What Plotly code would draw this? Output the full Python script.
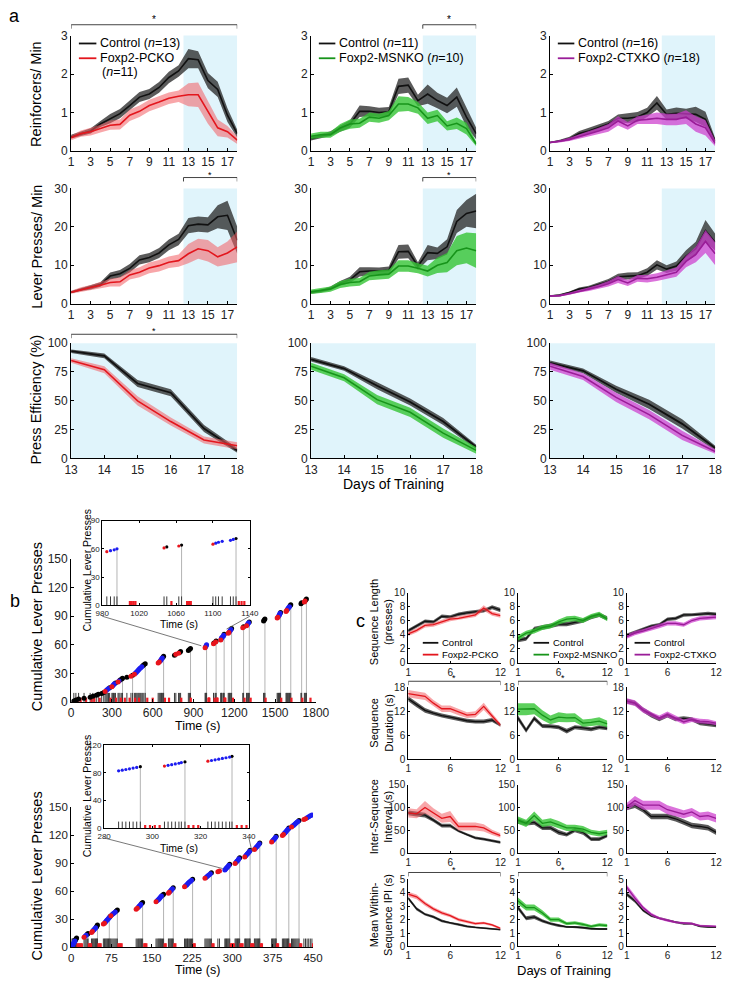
import plotly.graph_objects as go

W, H = 736, 983
FONT = "Liberation Sans, Arial, sans-serif"

# ---------------- DATA ----------------
DAYS = list(range(1, 19))
TEST_DAYS = list(range(13, 19))
SEQ_DAYS = list(range(1, 13))

# Panel a: Reinforcers / Min
RM_CTRL_PC = [0.37, 0.45, 0.52, 0.70, 0.84, 0.97, 1.18, 1.40, 1.48, 1.65, 1.91, 2.08, 2.40, 2.37, 1.83, 1.60, 0.93, 0.45]
RM_CTRL_PC_SEM = [0.05, 0.06, 0.07, 0.08, 0.12, 0.12, 0.12, 0.13, 0.13, 0.14, 0.15, 0.15, 0.25, 0.22, 0.20, 0.20, 0.18, 0.10]
RM_PCKO = [0.34, 0.45, 0.50, 0.58, 0.67, 0.69, 0.93, 1.03, 1.18, 1.27, 1.37, 1.42, 1.46, 1.46, 1.01, 0.60, 0.50, 0.28]
RM_PCKO_SEM = [0.06, 0.08, 0.10, 0.10, 0.12, 0.13, 0.15, 0.15, 0.15, 0.15, 0.15, 0.15, 0.30, 0.32, 0.30, 0.22, 0.15, 0.10]
RM_CTRL_MS = [0.32, 0.38, 0.45, 0.58, 0.70, 1.03, 1.03, 1.00, 1.02, 1.68, 1.71, 1.31, 1.48, 1.31, 1.18, 1.40, 0.88, 0.45]
RM_CTRL_MS_SEM = [0.05, 0.05, 0.06, 0.08, 0.10, 0.15, 0.13, 0.12, 0.12, 0.20, 0.20, 0.15, 0.25, 0.20, 0.20, 0.25, 0.25, 0.15]
RM_MSNKO = [0.38, 0.42, 0.42, 0.60, 0.70, 0.72, 0.88, 0.85, 0.92, 1.22, 1.22, 1.12, 0.85, 0.92, 0.65, 0.72, 0.58, 0.18]
RM_MSNKO_SEM = [0.07, 0.08, 0.08, 0.10, 0.12, 0.12, 0.12, 0.12, 0.12, 0.20, 0.18, 0.15, 0.15, 0.15, 0.12, 0.15, 0.15, 0.06]
RM_CTRL_CTX = [0.22, 0.26, 0.32, 0.45, 0.52, 0.60, 0.70, 0.85, 0.85, 0.88, 1.00, 1.25, 0.95, 0.98, 0.97, 0.95, 0.82, 0.25]
RM_CTRL_CTX_SEM = [0.02, 0.03, 0.05, 0.07, 0.08, 0.08, 0.08, 0.10, 0.13, 0.13, 0.12, 0.18, 0.13, 0.15, 0.13, 0.20, 0.20, 0.08]
RM_CTXKO = [0.22, 0.25, 0.30, 0.38, 0.45, 0.52, 0.60, 0.78, 0.65, 0.80, 0.82, 0.85, 0.82, 0.82, 0.88, 0.70, 0.60, 0.20]
RM_CTXKO_SEM = [0.02, 0.03, 0.04, 0.06, 0.07, 0.08, 0.10, 0.12, 0.10, 0.10, 0.12, 0.15, 0.15, 0.15, 0.18, 0.20, 0.20, 0.08]

# Panel a: Lever Presses / Min
LP_CTRL_PC = [3.0, 3.7, 4.2, 5.0, 7.2, 7.8, 9.2, 11.4, 12.0, 13.2, 15.3, 16.7, 20.3, 20.7, 20.5, 22.6, 23.0, 16.5]
LP_CTRL_PC_SEM = [0.3, 0.4, 0.5, 0.6, 0.9, 1.0, 1.1, 1.2, 1.2, 1.3, 1.4, 1.5, 2.0, 2.0, 2.0, 3.0, 3.8, 3.5]
LP_PCKO = [3.0, 3.7, 4.2, 4.8, 5.5, 5.7, 7.5, 8.2, 9.3, 9.9, 10.8, 11.2, 13.0, 14.3, 13.8, 12.2, 13.2, 14.8]
LP_PCKO_SEM = [0.4, 0.6, 0.7, 0.8, 1.0, 1.2, 1.2, 1.3, 1.4, 1.5, 1.5, 1.6, 2.5, 2.6, 2.8, 2.5, 3.0, 4.0]
LP_CTRL_MS = [3.0, 3.3, 4.0, 5.3, 6.2, 8.3, 8.5, 8.5, 8.7, 13.5, 13.6, 9.8, 13.3, 13.1, 14.8, 21.4, 23.5, 24.1]
LP_CTRL_MS_SEM = [0.4, 0.4, 0.5, 0.6, 0.8, 1.2, 1.0, 0.9, 1.0, 1.8, 1.8, 1.0, 2.0, 1.5, 2.0, 3.0, 3.5, 4.5]
LP_MSNKO = [3.1, 3.5, 3.8, 5.0, 5.5, 5.7, 7.2, 7.5, 7.7, 9.8, 9.8, 9.2, 8.5, 10.0, 10.7, 13.8, 14.5, 13.8]
LP_MSNKO_SEM = [0.6, 0.7, 0.7, 0.9, 1.0, 1.0, 1.1, 1.2, 1.2, 1.5, 1.5, 1.3, 1.4, 2.0, 2.5, 3.8, 4.0, 4.5]
LP_CTRL_CTX = [2.0, 2.2, 2.9, 3.8, 4.2, 5.0, 5.8, 7.0, 7.2, 7.3, 8.2, 10.1, 9.0, 9.8, 12.4, 14.3, 19.0, 16.0]
LP_CTRL_CTX_SEM = [0.2, 0.3, 0.3, 0.4, 0.5, 0.5, 0.6, 0.8, 0.9, 0.9, 1.0, 1.2, 1.0, 1.2, 1.5, 1.8, 2.8, 2.2]
LP_CTXKO = [2.0, 2.1, 2.6, 3.3, 3.8, 4.4, 5.2, 6.3, 5.4, 6.6, 6.5, 6.9, 7.5, 8.2, 11.0, 12.8, 16.2, 13.0]
LP_CTXKO_SEM = [0.2, 0.2, 0.3, 0.4, 0.5, 0.6, 0.7, 0.9, 0.8, 0.9, 1.0, 1.0, 1.1, 1.2, 1.5, 2.0, 3.0, 3.0]

# Panel a: Press Efficiency (%) days 13-18
PE_CTRL_PC = [93, 89, 65, 57, 26, 7]
PE_CTRL_PC_SEM = [1.5, 2, 3, 3, 3, 2]
PE_PCKO = [85, 77, 50, 32, 16, 11]
PE_PCKO_SEM = [2, 3, 4, 3.5, 3, 3]
PE_CTRL_MS = [86, 78, 63, 49, 32, 10]
PE_CTRL_MS_SEM = [2, 2, 3, 3, 3, 2]
PE_MSNKO = [80, 70, 51, 40, 22, 7]
PE_MSNKO_SEM = [3, 3, 4, 4, 4, 3]
PE_CTRL_CTX = [83, 76, 60, 47, 30, 9]
PE_CTRL_CTX_SEM = [2, 2, 3, 4, 4, 2]
PE_CTXKO = [80, 71, 53, 38, 20, 6]
PE_CTXKO_SEM = [3, 3, 4, 4, 4, 2]

# Panel c
SL_CTRL_PC = [4.55, 5.2, 5.9, 5.8, 6.6, 6.5, 6.9, 7.1, 7.3, 7.4, 7.9, 7.5]
SL_CTRL_PC_SEM = [0.25, 0.25, 0.25, 0.25, 0.25, 0.25, 0.25, 0.25, 0.25, 0.25, 0.3, 0.3]
SL_PCKO = [4.1, 4.6, 5.3, 5.4, 5.8, 6.2, 6.3, 6.6, 6.8, 7.8, 7.0, 6.7]
SL_PCKO_SEM = [0.3, 0.3, 0.3, 0.3, 0.3, 0.3, 0.3, 0.3, 0.3, 0.4, 0.3, 0.3]
SL_CTRL_MS = [3.2, 3.4, 4.8, 5.0, 5.2, 5.5, 5.5, 5.8, 6.0, 6.5, 6.8, 6.3]
SL_CTRL_MS_SEM = [0.3, 0.3, 0.3, 0.3, 0.3, 0.3, 0.3, 0.3, 0.3, 0.3, 0.3, 0.3]
SL_MSNKO = [3.5, 4.2, 4.5, 5.0, 5.2, 5.8, 6.2, 6.3, 6.0, 6.6, 6.9, 6.2]
SL_MSNKO_SEM = [0.4, 0.35, 0.35, 0.35, 0.35, 0.35, 0.4, 0.4, 0.35, 0.35, 0.35, 0.3]
SL_CTRL_CTX = [3.9, 4.3, 4.8, 5.2, 5.4, 6.2, 6.3, 6.8, 6.8, 6.9, 7.0, 6.9]
SL_CTRL_CTX_SEM = [0.25, 0.25, 0.25, 0.25, 0.25, 0.25, 0.25, 0.25, 0.25, 0.25, 0.25, 0.25]
SL_CTXKO = [3.7, 4.2, 4.5, 4.9, 5.2, 5.6, 5.6, 5.4, 6.0, 6.3, 6.4, 6.5]
SL_CTXKO_SEM = [0.3, 0.3, 0.3, 0.3, 0.3, 0.3, 0.3, 0.3, 0.3, 0.3, 0.3, 0.3]

SD_CTRL_PC = [15.1, 13.6, 12.2, 11.5, 10.9, 10.5, 10.0, 9.6, 9.4, 9.4, 9.8, 8.5]
SD_CTRL_PC_SEM = [0.6, 0.6, 0.6, 0.5, 0.5, 0.5, 0.5, 0.5, 0.5, 0.5, 0.5, 0.4]
SD_PCKO = [16.4, 16.0, 15.7, 14.0, 12.6, 12.6, 11.8, 11.0, 11.2, 13.2, 10.8, 8.5]
SD_PCKO_SEM = [0.9, 0.9, 0.9, 0.8, 0.8, 0.8, 0.8, 0.7, 0.8, 0.9, 0.7, 0.5]
SD_CTRL_MS = [10.3, 7.2, 10.2, 8.3, 8.2, 8.0, 7.0, 8.0, 7.8, 7.5, 8.0, 7.7]
SD_CTRL_MS_SEM = [0.7, 0.6, 0.6, 0.5, 0.5, 0.5, 0.6, 0.5, 0.5, 0.5, 0.5, 0.5]
SD_MSNKO = [12.5, 12.5, 12.6, 11.0, 9.8, 10.5, 10.3, 10.4, 9.0, 9.2, 9.5, 8.8]
SD_MSNKO_SEM = [1.5, 1.5, 1.4, 1.2, 1.1, 1.2, 1.1, 1.1, 0.9, 0.9, 1.0, 0.8]
SD_CTRL_CTX = [14.5, 14.0, 12.3, 11.0, 10.0, 11.0, 10.0, 10.2, 10.0, 9.0, 8.8, 8.5]
SD_CTRL_CTX_SEM = [0.6, 0.6, 0.6, 0.6, 0.5, 0.6, 0.5, 0.5, 0.5, 0.5, 0.5, 0.5]
SD_CTXKO = [14.5, 14.0, 12.3, 11.2, 10.3, 11.2, 10.3, 9.3, 9.9, 9.5, 9.4, 9.0]
SD_CTXKO_SEM = [0.7, 0.7, 0.7, 0.6, 0.6, 0.7, 0.6, 0.6, 0.6, 0.6, 0.6, 0.5]

ISI_CTRL_PC = [88, 85, 83, 72, 60, 60, 48, 40, 33, 30, 27, 23]
ISI_CTRL_PC_SEM = [5, 5, 5, 4, 4, 4, 3, 3, 3, 3, 3, 3]
ISI_PCKO = [88, 86, 100, 88, 76, 80, 58, 58, 58, 55, 45, 38]
ISI_PCKO_SEM = [10, 10, 14, 10, 10, 12, 9, 9, 9, 8, 6, 5]
ISI_CTRL_MS = [70, 65, 67, 55, 55, 45, 40, 50, 45, 30, 30, 38]
ISI_CTRL_MS_SEM = [6, 5, 5, 5, 5, 5, 4, 5, 5, 4, 4, 4]
ISI_MSNKO = [72, 65, 82, 65, 68, 62, 55, 55, 52, 45, 42, 45]
ISI_MSNKO_SEM = [8, 8, 9, 8, 8, 8, 7, 7, 7, 6, 6, 6]
ISI_CTRL_CTX = [100, 105, 95, 80, 80, 80, 75, 68, 60, 58, 55, 45]
ISI_CTRL_CTX_SEM = [6, 6, 6, 6, 6, 6, 6, 6, 6, 6, 6, 6]
ISI_CTXKO = [102, 115, 105, 105, 105, 95, 90, 85, 90, 80, 82, 76]
ISI_CTXKO_SEM = [8, 10, 10, 10, 10, 10, 9, 9, 9, 9, 9, 9]

IPI_CTRL_PC = [3.6, 2.8, 2.4, 2.2, 1.9, 1.75, 1.65, 1.5, 1.42, 1.35, 1.3, 1.25]
IPI_CTRL_PC_SEM = [0.12, 0.12, 0.1, 0.1, 0.1, 0.08, 0.08, 0.08, 0.07, 0.07, 0.07, 0.06]
IPI_PCKO = [3.9, 3.7, 3.2, 2.8, 2.5, 2.3, 2.0, 1.85, 1.7, 1.75, 1.6, 1.35]
IPI_PCKO_SEM = [0.18, 0.18, 0.16, 0.15, 0.14, 0.12, 0.12, 0.1, 0.1, 0.1, 0.1, 0.08]
IPI_CTRL_MS = [2.9, 2.1, 2.2, 1.9, 1.7, 1.55, 1.45, 1.45, 1.4, 1.3, 1.3, 1.3]
IPI_CTRL_MS_SEM = [0.18, 0.15, 0.15, 0.12, 0.1, 0.1, 0.08, 0.08, 0.08, 0.07, 0.07, 0.07]
IPI_MSNKO = [3.4, 2.9, 2.9, 2.5, 2.0, 2.0, 1.7, 1.75, 1.65, 1.5, 1.6, 1.55]
IPI_MSNKO_SEM = [0.25, 0.22, 0.22, 0.2, 0.16, 0.16, 0.12, 0.12, 0.12, 0.1, 0.12, 0.12]
IPI_CTRL_CTX = [3.9, 3.4, 2.7, 2.3, 2.1, 1.95, 1.8, 1.7, 1.7, 1.5, 1.45, 1.45]
IPI_CTRL_CTX_SEM = [0.15, 0.14, 0.12, 0.1, 0.1, 0.08, 0.08, 0.08, 0.08, 0.07, 0.07, 0.07]
IPI_CTXKO = [4.4, 3.6, 2.9, 2.4, 2.1, 1.95, 1.8, 1.75, 1.7, 1.55, 1.5, 1.5]
IPI_CTXKO_SEM = [0.2, 0.18, 0.14, 0.12, 0.1, 0.1, 0.08, 0.08, 0.08, 0.07, 0.07, 0.07]

# Panel b: example sessions (press times in s, press class k/r/b)
TOP_PRESS_T = [20, 35, 55, 95, 140, 160, 185, 200, 225, 240,
               250, 258, 266, 275, 283, 300, 306, 312, 318, 326, 345, 352, 360, 372, 378,
               410, 440, 452,
               465, 472, 478, 485, 492, 498, 505, 512, 520, 527, 535, 545,
               640, 648, 655, 660, 665, 670, 675, 680,
               760, 770, 790, 798, 805,
               862, 870, 878,
               985, 989, 993, 996,
               1047, 1050, 1063, 1066,
               1100, 1103, 1106, 1110, 1119, 1122, 1125,
               1155, 1160, 1165, 1170, 1175, 1180,
               1262, 1268, 1290, 1295, 1300, 1305, 1310,
               1415, 1420, 1425,
               1515, 1520, 1525, 1530, 1533, 1536, 1540,
               1580, 1585, 1590, 1595, 1600, 1605, 1610, 1615,
               1690, 1695, 1715, 1720, 1725, 1730]
TOP_PRESS_CLASS = ("kkkkkkkkkk" "rbbbkrbbbkrbkkk" "krk" "rbbbbbbbbkkk" "rrbbbbkk" "krrkk" "kkk"
                   "rbbb" "rkrk" "rbbbbbk" "rrbbbk" "rkrbbbk" "kkk" "rrbbbbk" "rrbbbbkk" "kkrrkk")
TOP_REWARD_T = [378, 452, 545, 680, 878, 996, 1066, 1125, 1180, 1268, 1310, 1425, 1540, 1615, 1695, 1730]
TOP_ENTRY_T = [45, 70, 110, 150, 170, 210, 290, 330, 365, 395, 430, 470, 500, 560, 600, 690, 720,
               810, 880, 1010, 1012, 1014, 1016, 1055, 1072, 1074, 1076, 1128, 1131, 1134, 1190,
               1275, 1320, 1430, 1545, 1620, 1700, 1760]
TOP_INSET_XT = [980, 1020, 1060, 1100, 1140]

BOT_PRESS_T = [1.5, 2.5, 3.2, 4.0, 5.1, 6.0, 7.2, 8.1, 9.0, 10.2,
               24, 26, 28, 30, 31.5,
               38, 39.5, 41, 42.5, 44, 45.5, 47, 48, 49,
               60, 62, 63.5, 65, 66.5, 68, 69.5, 71, 72.5, 74, 76, 78, 80, 82, 84, 86,
               121, 123, 125, 126.5, 128, 129.5, 131, 133,
               158, 160, 162, 163.5, 165, 166.5, 168, 170, 172,
               181, 182.5, 184, 185.5, 187, 188.5, 190,
               211, 213, 215, 216.5, 218, 220, 222, 224, 226,
               249, 251, 253, 255, 257, 259, 261,
               273, 276,
               286, 287.5, 289, 290.5, 292, 293.5, 295,
               305, 306.5, 308, 309.5, 311, 312, 313.5,
               323, 324.5, 326, 327.5, 329, 330.5, 332, 333,
               341, 342.5, 344, 345.5, 347, 348.5, 350, 351,
               373, 374.5, 376, 377.5, 379, 380.5, 381.5,
               393, 395, 396.5, 398, 399.5, 401, 402.5, 404, 405,
               410, 412, 414, 416, 418, 420, 422, 424,
               433, 436, 439, 442, 445, 448]
BOT_PRESS_CLASS = ("bbbbbbbkkk" "rbbkk" "rrbbbbkkk" "rrbbbbbbkrbbbbkk" "rrbbbbkk" "rbbbbbbkk" "rrbbbbk"
                   "rbbbbbbbk" "rbbbbbk" "rr" "bbbbbbk" "rbbbbbk" "rbbbbbbk" "rbbbbbbk" "rbbbbbk"
                   "rrbbbbbbk" "rbbbbbbk" "rrbbbb")
BOT_REWARD_T = [10.2, 31.5, 49, 71, 86, 133, 172, 190, 226, 261, 295, 313.5, 333, 351, 381.5, 405, 424]
BOT_ENTRY_T = [12, 14, 16, 18, 20, 33, 35, 37, 51, 53, 55, 88, 90, 92, 94, 136, 138, 140, 174, 176,
               192, 194, 228, 230, 263, 265, 297, 299, 301, 303, 315, 317, 319, 335, 337, 339,
               353, 355, 383, 385, 407, 426, 428, 450]
BOT_INSET_XT = [280, 300, 320, 340]

# ---------------- STYLE ----------------
BLACK, BLACK_BAND = "#111111", "rgba(45,45,45,0.78)"
RED, RED_BAND = "#e3161d", "rgba(242,92,98,0.55)"
GREEN, GREEN_BAND = "#17941a", "rgba(52,196,52,0.8)"
PURPLE, PURPLE_BAND = "#9a1d98", "rgba(205,60,205,0.72)"
SHADE = "#e0f4fb"
DOT = {"k": "#000000", "r": "#e8141c", "b": "#1c1cf0"}

fig = go.Figure()
layout = {}
shapes = []
annos = []


def fx(px):
    return px / W


def fy(py):
    return 1 - py / H


def ax_names(n):
    return ("x" if n == 1 else f"x{n}"), ("y" if n == 1 else f"y{n}")


def add_axis(n, box, xr, yr, xt, yt, fs, mirror=False, ticklen=3):
    l, r, t, b = box
    xn, yn = ax_names(n)
    common = dict(showgrid=False, zeroline=False, showline=True, linecolor="black", linewidth=1,
                  ticks="inside", ticklen=ticklen, tickcolor="black", tickwidth=1,
                  tickfont=dict(size=fs, color="#222", family=FONT),
                  mirror="ticks" if mirror else False, fixedrange=True)
    layout["xaxis" if n == 1 else f"xaxis{n}"] = dict(domain=[fx(l), fx(r)], range=xr, anchor=yn,
                                                     tickvals=xt, **common)
    layout["yaxis" if n == 1 else f"yaxis{n}"] = dict(domain=[fy(b), fy(t)], range=yr, anchor=xn,
                                                     tickvals=yt, **common)


def band_line(n, x, m, s, lc, bc, lw=1.6):
    xn, yn = ax_names(n)
    up = [a + e for a, e in zip(m, s)]
    lo = [a - e for a, e in zip(m, s)]
    fig.add_trace(go.Scatter(x=list(x) + list(x)[::-1], y=up + lo[::-1], fill="toself", fillcolor=bc,
                             line=dict(width=0), mode="lines", hoverinfo="skip", xaxis=xn, yaxis=yn))
    fig.add_trace(go.Scatter(x=list(x), y=list(m), mode="lines", line=dict(color=lc, width=lw),
                             xaxis=xn, yaxis=yn))


def shade(n, x0, x1):
    xn, yn = ax_names(n)
    shapes.append(dict(type="rect", xref=xn, yref=f"{yn} domain", x0=x0, x1=x1, y0=0, y1=1,
                       fillcolor=SHADE, line=dict(width=0), layer="below"))


def bracket(n, x0, x1, ytop, drop=4, star_fs=10, star_dy=5):
    xn, _ = ax_names(n)
    shapes.append(dict(type="path", xref=xn, yref="paper",
                       path=f"M {x0},{fy(ytop + drop)} L {x0},{fy(ytop)} L {x1},{fy(ytop)} L {x1},{fy(ytop + drop)}",
                       line=dict(color="#444", width=1)))
    annos.append(dict(xref=xn, yref="paper", x=(x0 + x1) / 2, y=fy(ytop - star_dy), text="*", showarrow=False,
                      yanchor="middle", borderpad=0,
                      font=dict(size=star_fs, color="black", family=FONT)))


def text(px, py, s, fs, angle=0, xanchor="center", yanchor="middle", color="black"):
    annos.append(dict(xref="paper", yref="paper", x=fx(px), y=fy(py), text=s, showarrow=False,
                      textangle=angle, xanchor=xanchor, yanchor=yanchor,
                      font=dict(size=fs, color=color, family=FONT)))


def legend_item(x0, x1, py, color, label, fs):
    shapes.append(dict(type="line", xref="paper", yref="paper", x0=fx(x0), x1=fx(x1), y0=fy(py), y1=fy(py),
                       line=dict(color=color, width=1.8)))
    text(x1 + 2, py, label, fs, xanchor="left")


# ---------------- PANEL A ----------------
A_COLS = [(66, 237), (313, 483), (559, 729)]
A_ROWS = [(29, 146), (184, 301), (341, 458)]
groups = [
    (RED, RED_BAND, "Foxp2-PCKO"),
    (GREEN, GREEN_BAND, "Foxp2-MSNKO"),
    (PURPLE, PURPLE_BAND, "Foxp2-CTXKO"),
]
rm = [(RM_CTRL_PC, RM_CTRL_PC_SEM, RM_PCKO, RM_PCKO_SEM),
      (RM_CTRL_MS, RM_CTRL_MS_SEM, RM_MSNKO, RM_MSNKO_SEM),
      (RM_CTRL_CTX, RM_CTRL_CTX_SEM, RM_CTXKO, RM_CTXKO_SEM)]
lp = [(LP_CTRL_PC, LP_CTRL_PC_SEM, LP_PCKO, LP_PCKO_SEM),
      (LP_CTRL_MS, LP_CTRL_MS_SEM, LP_MSNKO, LP_MSNKO_SEM),
      (LP_CTRL_CTX, LP_CTRL_CTX_SEM, LP_CTXKO, LP_CTXKO_SEM)]
pe = [(PE_CTRL_PC, PE_CTRL_PC_SEM, PE_PCKO, PE_PCKO_SEM),
      (PE_CTRL_MS, PE_CTRL_MS_SEM, PE_MSNKO, PE_MSNKO_SEM),
      (PE_CTRL_CTX, PE_CTRL_CTX_SEM, PE_CTXKO, PE_CTXKO_SEM)]
TEST_START = TEST_DAYS[0] - 0.5
odd_days = DAYS[::2]

for c in range(3):
    lc, bc, _ = groups[c]
    l, r = A_COLS[c]
    n = 1 + c
    add_axis(n, (l, r) + A_ROWS[0], [DAYS[0], DAYS[-1]], [0, 3], odd_days, [0, 1, 2, 3], 12)
    shade(n, TEST_START, DAYS[-1])
    cm, cs, km, ks = rm[c]
    band_line(n, DAYS, cm, cs, BLACK, BLACK_BAND)
    band_line(n, DAYS, km, ks, lc, bc)
    n = 4 + c
    add_axis(n, (l, r) + A_ROWS[1], [DAYS[0], DAYS[-1]], [0, 30], odd_days, [0, 10, 20, 30], 12)
    shade(n, TEST_START, DAYS[-1])
    cm, cs, km, ks = lp[c]
    band_line(n, DAYS, cm, cs, BLACK, BLACK_BAND)
    band_line(n, DAYS, km, ks, lc, bc)
    n = 7 + c
    add_axis(n, (l, r) + A_ROWS[2], [TEST_DAYS[0], TEST_DAYS[-1]], [0, 100], TEST_DAYS,
             [0, 25, 50, 75, 100], 12)
    shade(n, TEST_DAYS[0], TEST_DAYS[-1])
    cm, cs, km, ks = pe[c]
    band_line(n, TEST_DAYS, cm, cs, BLACK, BLACK_BAND, lw=1.8)
    band_line(n, TEST_DAYS, km, ks, lc, bc)

bracket(1, DAYS[0], DAYS[-1], 18)
bracket(2, TEST_START, DAYS[-1], 18)
bracket(4, TEST_START, DAYS[-1], 173, star_fs=9, star_dy=3)
bracket(5, TEST_START, DAYS[-1], 173, star_fs=9, star_dy=3)
bracket(7, TEST_DAYS[0], TEST_DAYS[-1], 332, star_fs=9, star_dy=3)

legend_item(74, 92, 37, BLACK, "Control (<i>n</i>=13)", 12.5)
legend_item(74, 92, 52, RED, "Foxp2-PCKO", 12.5)
text(96, 66, "(<i>n</i>=11)", 12.5, xanchor="left")
legend_item(321, 338, 37, BLACK, "Control (<i>n</i>=11)", 12.5)
legend_item(321, 338, 52, GREEN, "Foxp2-MSNKO (<i>n</i>=10)", 12.5)
legend_item(567, 584, 37, BLACK, "Control (<i>n</i>=16)", 12.5)
legend_item(567, 584, 52, PURPLE, "Foxp2-CTXKO (<i>n</i>=18)", 12.5)

text(30, 88, "Reinforcers/ Min", 14.5, angle=-90)
text(30, 243, "Lever Presses/ Min", 14.5, angle=-90)
text(30, 399, "Press Efficiency (%)", 14.5, angle=-90)
text(398, 484, "Days of Training", 14)
text(8, 9, "a", 18)

# ---------------- PANEL B ----------------


def cumulative_panel(n_main, n_inset, times, classes, rewards, entries, main_box, main_xr, main_xt,
                     inset_box, inset_xr, inset_xt, inset_yr, inset_yt, main_fs):
    counts = list(range(1, len(times) + 1))
    count_at = dict(zip(times, counts))
    add_axis(n_main, main_box, main_xr, [0, 150], main_xt, [0, 30, 60, 90, 120, 150], main_fs)
    add_axis(n_inset, inset_box, inset_xr, inset_yr, inset_xt, inset_yt, 8, mirror=True, ticklen=2)
    for n, msize in ((n_main, 5), (n_inset, 3.2)):
        xn, yn = ax_names(n)
        rx, ry = [], []
        for t in rewards:
            rx += [t, t, None]
            ry += [0, count_at[t], None]
        fig.add_trace(go.Scatter(x=rx, y=ry, mode="lines", line=dict(color="#b4b4b4", width=1),
                                 xaxis=xn, yaxis=yn))
        px_, py_ = [], []
        for t in times:
            px_ += [t, t, None]
            py_ += [0, 9.5, None]
        fig.add_trace(go.Scatter(x=px_, y=py_, mode="lines", line=dict(color="#3a3a3a", width=1),
                                 xaxis=xn, yaxis=yn))
        ex, ey = [], []
        for t in entries:
            ex += [t, t, None]
            ey += [0, 4.5, None]
        fig.add_trace(go.Scatter(x=ex, y=ey, mode="lines", line=dict(color="#ee1c24", width=2.2),
                                 xaxis=xn, yaxis=yn))
        for cls in "kbr":
            xs = [t for t, k in zip(times, classes) if k == cls]
            ys = [count_at[t] for t, k in zip(times, classes) if k == cls]
            fig.add_trace(go.Scatter(x=xs, y=ys, mode="markers",
                                     marker=dict(color=DOT[cls], size=msize, line=dict(width=0)),
                                     xaxis=xn, yaxis=yn))


cumulative_panel(10, 11, TOP_PRESS_T, TOP_PRESS_CLASS, TOP_REWARD_T, TOP_ENTRY_T,
                 (66, 318, 560, 705), [0, 1800], [0, 300, 600, 900, 1200, 1500, 1800],
                 (98, 250, 521, 607), [980, 1140], TOP_INSET_XT, [0, 90], [0, 30, 60, 90], 12)
cumulative_panel(12, 13, BOT_PRESS_T, BOT_PRESS_CLASS, BOT_REWARD_T, BOT_ENTRY_T,
                 (66, 315, 812, 954), [0, 450], [0, 75, 150, 225, 300, 375, 450],
                 (100, 249, 749, 833), [280, 340], BOT_INSET_XT, [0, 120], [0, 40, 80, 120], 11.5)

for (x0, y0, x1, y1) in [(98, 618, 200, 648), (250, 618, 226, 631), (100, 843, 222, 874), (249, 843, 252, 856)]:
    shapes.append(dict(type="line", xref="paper", yref="paper", x0=fx(x0), y0=fy(y0), x1=fx(x1), y1=fy(y1),
                       line=dict(color="#555", width=0.8)))

text(31, 629, "Cumulative Lever Presses", 14.5, angle=-90)
text(31, 882, "Cumulative Lever Presses", 14.5, angle=-90)
text(196, 729, "Time (s)", 12.5)
text(196, 986, "Time (s)", 12.5, yanchor="bottom")
text(82, 571, "Cumulative Lever Presses", 10.5, angle=-90)
text(82, 800, "Cumulative Lever Presses", 10.5, angle=-90)
text(177, 626, "Time (s)", 10.5)
text(177, 853, "Time (s)", 10.5)
text(8, 603, "b", 18)

# ---------------- PANEL C ----------------
C_COLS = [(413, 508), (526, 618), (638, 730)]
C_ROWS = [(594, 665), (690, 763), (789, 858), (885, 953)]
c_rows = [
    ([0, 10], [0, 2, 4, 6, 8, 10],
     [(SL_CTRL_PC, SL_CTRL_PC_SEM, SL_PCKO, SL_PCKO_SEM), (SL_CTRL_MS, SL_CTRL_MS_SEM, SL_MSNKO, SL_MSNKO_SEM),
      (SL_CTRL_CTX, SL_CTRL_CTX_SEM, SL_CTXKO, SL_CTXKO_SEM)]),
    ([0, 18], [0, 6, 12, 18],
     [(SD_CTRL_PC, SD_CTRL_PC_SEM, SD_PCKO, SD_PCKO_SEM), (SD_CTRL_MS, SD_CTRL_MS_SEM, SD_MSNKO, SD_MSNKO_SEM),
      (SD_CTRL_CTX, SD_CTRL_CTX_SEM, SD_CTXKO, SD_CTXKO_SEM)]),
    ([0, 150], [0, 50, 100, 150],
     [(ISI_CTRL_PC, ISI_CTRL_PC_SEM, ISI_PCKO, ISI_PCKO_SEM), (ISI_CTRL_MS, ISI_CTRL_MS_SEM, ISI_MSNKO, ISI_MSNKO_SEM),
      (ISI_CTRL_CTX, ISI_CTRL_CTX_SEM, ISI_CTXKO, ISI_CTXKO_SEM)]),
    ([0, 5], [0, 1, 2, 3, 4, 5],
     [(IPI_CTRL_PC, IPI_CTRL_PC_SEM, IPI_PCKO, IPI_PCKO_SEM), (IPI_CTRL_MS, IPI_CTRL_MS_SEM, IPI_MSNKO, IPI_MSNKO_SEM),
      (IPI_CTRL_CTX, IPI_CTRL_CTX_SEM, IPI_CTXKO, IPI_CTXKO_SEM)]),
]
for rr in range(4):
    yr, yt, series = c_rows[rr]
    for c in range(3):
        n = 14 + rr * 3 + c
        lc, bc, _ = groups[c]
        add_axis(n, C_COLS[c] + C_ROWS[rr], [SEQ_DAYS[0], SEQ_DAYS[-1]], yr, [1, 6, 12], yt, 10, ticklen=2)
        cm, cs, km, ks = series[c]
        band_line(n, SEQ_DAYS, cm, cs, BLACK, BLACK_BAND, lw=1.3)
        band_line(n, SEQ_DAYS, km, ks, lc, bc, lw=1.3)

bracket(17, SEQ_DAYS[0], SEQ_DAYS[-1], 684, drop=4, star_fs=9, star_dy=3)
bracket(18, SEQ_DAYS[0], SEQ_DAYS[-1], 684, drop=4, star_fs=9, star_dy=3)
bracket(23, SEQ_DAYS[0], SEQ_DAYS[-1], 878, drop=4, star_fs=9, star_dy=3)
bracket(24, SEQ_DAYS[0], SEQ_DAYS[-1], 878, drop=4, star_fs=9, star_dy=3)

for c, (x0, x1) in enumerate([(428, 444), (542, 558), (646, 662)]):
    legend_item(x0, x1, 645, BLACK, "Control", 9.5)
    legend_item(x0, x1, 657, groups[c][0], groups[c][2], 9.5)

text(385, 624, "Sequence Length<br>(presses)", 11, angle=-90)
text(385, 727, "Sequence<br>Duration (s)", 11, angle=-90)
text(385, 822, "Inter-Sequence<br>Interval (s)", 11, angle=-90)
text(385, 921, "Mean Within-<br>Sequence IPI (s)", 11, angle=-90)
text(573, 977, "Days of Training", 13)
text(364, 623, "c", 18)

layout.update(dict(width=W, height=H, margin=dict(l=0, r=0, t=0, b=0), showlegend=False,
                   paper_bgcolor="white", plot_bgcolor="white", shapes=shapes, annotations=annos,
                   font=dict(family=FONT)))
fig.update_layout(**layout)
fig.write_html("out.html", config={"displayModeBar": False},
               post_script="document.body.style.margin='0';document.body.style.overflow='hidden';")
